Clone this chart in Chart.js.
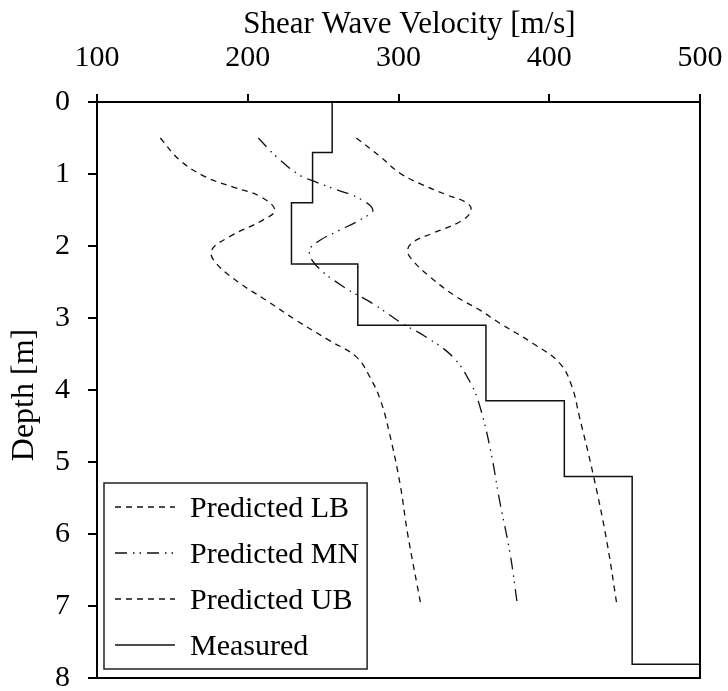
<!DOCTYPE html>
<html><head><meta charset="utf-8">
<script src="https://cdn.jsdelivr.net/npm/chart.js@4.4.1/dist/chart.umd.min.js"></script>
<style>html,body{margin:0;padding:0;background:#fff}</style>
</head><body>
<canvas id="c" width="728" height="691"></canvas>
<script>
// ---- data ----
const seriesLabels = ['Predicted LB', 'Predicted MN', 'Predicted UB', 'Measured'];

const lbDepth = [0.5, 0.81, 1.04, 1.18, 1.31, 1.50, 1.64, 1.87, 2.06, 2.24, 2.52, 2.75, 3.03, 3.31, 3.54, 3.82, 4.14, 4.60, 5.30, 5.99, 7.0];
const lbVel   = [142, 155, 172, 190, 208, 218, 210, 188, 176, 179, 195, 212, 232, 254, 272, 281, 288, 294, 301, 306, 315];

const mnDepth = [0.5, 0.76, 1.01, 1.11, 1.22, 1.34, 1.50, 1.62, 1.80, 1.92, 2.06, 2.26, 2.56, 2.80, 3.07, 3.26, 3.54, 3.91, 4.23, 4.83, 5.53, 6.27, 7.0];
const mnVel   = [207, 219, 234, 245, 259, 274, 283, 276, 259, 248, 241, 245, 263, 283, 302, 318, 336, 348, 354, 361, 367, 374, 379];

const ubDepth = [0.5, 0.76, 0.99, 1.15, 1.29, 1.41, 1.52, 1.66, 1.82, 1.94, 2.06, 2.19, 2.43, 2.70, 2.89, 3.07, 3.35, 3.63, 3.95, 4.37, 5.16, 6.08, 7.0];
const ubVel   = [272, 288, 301, 316, 332, 346, 348, 341, 323, 310, 306, 309, 321, 338, 354, 367, 389, 407, 415, 420, 429, 438, 445];

const measDepth = [0, 0.70, 0.70, 1.40, 1.40, 2.25, 2.25, 3.10, 3.10, 4.15, 4.15, 5.20, 5.20, 7.81, 7.81, 8.0];
const measVel   = [256, 256, 243, 243, 229, 229, 273, 273, 358, 358, 410, 410, 455, 455, 500, 500];

const xTickValues = [100, 200, 300, 400, 500];
const yTickValues = [0, 1, 2, 3, 4, 5, 6, 7, 8];
const xTitle = 'Shear Wave Velocity [m/s]';
const yTitle = 'Depth [m]';

// ---- build ----
const toPts = (v, d) => v.map((x, i) => ({ x: x, y: d[i] }));
const FONT = 'Liberation Serif';

const datasets = [
  { label: seriesLabels[0], data: toPts(lbVel, lbDepth), borderDash: [6, 5], borderWidth: 1.3, tension: 0.4 },
  { label: seriesLabels[1], data: toPts(mnVel, mnDepth), borderDash: [12, 6, 1.5, 5, 1.5, 6], borderWidth: 1.3, tension: 0.4 },
  { label: seriesLabels[2], data: toPts(ubVel, ubDepth), borderDash: [6, 5], borderWidth: 1.3, tension: 0.4 },
  { label: seriesLabels[3], data: toPts(measVel, measDepth), borderDash: [], borderWidth: 1.5, tension: 0 }
].map(d => Object.assign({ showLine: true, pointRadius: 0, borderColor: '#111', backgroundColor: '#111', clip: false, fill: false }, d));

const framePlugin = {
  id: 'frameAndLegend',
  afterDraw(chart) {
    const ctx = chart.ctx, ca = chart.chartArea;
    ctx.save();
    ctx.strokeStyle = '#000';
    ctx.lineWidth = 2;
    ctx.setLineDash([]);
    ctx.beginPath();
    ctx.moveTo(ca.left, ca.bottom);
    ctx.lineTo(ca.right, ca.bottom);
    ctx.lineTo(ca.right, ca.top);
    ctx.stroke();
    ctx.beginPath();
    ctx.moveTo(ca.left - 9, ca.bottom);
    ctx.lineTo(ca.left, ca.bottom);
    ctx.stroke();

    // axis titles
    ctx.fillStyle = '#000';
    ctx.textBaseline = 'alphabetic';
    ctx.textAlign = 'center';
    ctx.font = '31px "' + FONT + '"';
    ctx.fillText(xTitle, (ca.left + ca.right) / 2 + 11, 33);
    ctx.save();
    ctx.font = '32px "' + FONT + '"';
    ctx.translate(33, (ca.top + ca.bottom) / 2 + 5);
    ctx.rotate(-Math.PI / 2);
    ctx.fillText(yTitle, 0, 0);
    ctx.restore();

    // legend box
    const dsets = chart.data.datasets;
    const rowGap = 46, edge = 24;
    const bx = ca.left + 7, bBottom = ca.bottom - 9;
    const bh = edge * 2 + rowGap * (dsets.length - 1);
    const by = bBottom - bh;
    ctx.font = '30px "' + FONT + '"';
    let maxW = 0;
    dsets.forEach(d => { maxW = Math.max(maxW, ctx.measureText(d.label).width); });
    const textX = bx + 86;
    const bw = 86 + maxW + 8;
    ctx.fillStyle = '#fff';
    ctx.fillRect(bx, by, bw, bh);
    ctx.lineWidth = 1.5;
    ctx.strokeStyle = '#222';
    ctx.strokeRect(bx, by, bw, bh);
    dsets.forEach((d, i) => {
      const cy = by + edge + i * rowGap;
      ctx.strokeStyle = d.borderColor;
      ctx.lineWidth = d.borderWidth;
      ctx.setLineDash(d.borderDash || []);
      ctx.beginPath();
      ctx.moveTo(bx + 11, cy);
      ctx.lineTo(bx + 71, cy);
      ctx.stroke();
      ctx.setLineDash([]);
      ctx.fillStyle = '#000';
      ctx.textBaseline = 'alphabetic';
      ctx.textAlign = 'left';
      ctx.fillText(d.label, textX, cy + 10);
    });
    ctx.restore();
  }
};

new Chart(document.getElementById('c').getContext('2d'), {
  type: 'scatter',
  data: { datasets },
  options: {
    responsive: false,
    animation: false,
    devicePixelRatio: 1,
    layout: { padding: { top: 0, right: 28, bottom: 13, left: 0 } },
    plugins: { legend: { display: false }, tooltip: { enabled: false } },
    scales: {
      x: {
        type: 'linear', position: 'top', min: xTickValues[0], max: xTickValues[xTickValues.length - 1],
        afterBuildTicks: s => { s.ticks = xTickValues.map(v => ({ value: v })); },
        ticks: { color: '#000', font: { family: FONT, size: 30 }, padding: 18, maxRotation: 0, autoSkip: false },
        grid: { drawOnChartArea: false, drawTicks: true, tickLength: 8, color: '#000', lineWidth: 2 },
        border: { display: true, color: '#000', width: 2 },
        title: { display: false, text: xTitle },
        afterFit: s => { s.height = 102; s.paddingLeft = 0; s.paddingRight = 0; }
      },
      y: {
        type: 'linear', position: 'left', reverse: true, min: yTickValues[0], max: yTickValues[yTickValues.length - 1],
        afterBuildTicks: s => { s.ticks = yTickValues.map(v => ({ value: v })); },
        ticks: { color: '#000', font: { family: FONT, size: 30 }, padding: 18, autoSkip: false },
        grid: { drawOnChartArea: false, drawTicks: true, tickLength: 9, color: '#000', lineWidth: 2 },
        border: { display: true, color: '#000', width: 2 },
        title: { display: false, text: yTitle },
        afterFit: s => { s.width = 97; s.paddingTop = 0; s.paddingBottom = 0; }
      }
    }
  },
  plugins: [framePlugin]
});
</script>
</body></html>
